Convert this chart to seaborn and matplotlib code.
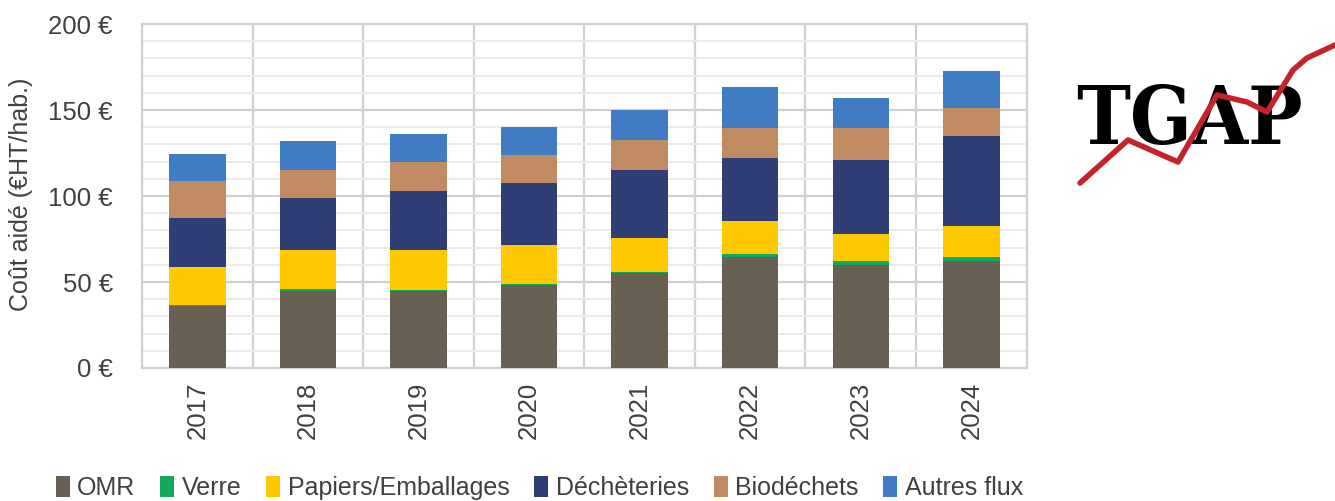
import matplotlib
matplotlib.use("Agg")
import matplotlib.pyplot as plt
import seaborn as sns
import pandas as pd
import numpy as np
from matplotlib.patches import Patch
from matplotlib.lines import Line2D
from matplotlib.ticker import MultipleLocator, FuncFormatter

years = ["2017", "2018", "2019", "2020", "2021", "2022", "2023", "2024"]
omr = [35.9, 44.6, 45.0, 48.3, 55.2, 64.7, 60.1, 62.4]
verre = [0.7, 1.5, 0.4, 0.8, 0.8, 1.6, 2.3, 2.1]
papiers = [22.1, 22.3, 23.1, 22.5, 19.8, 19.2, 15.7, 18.1]
decheteries = [28.3, 30.6, 34.3, 35.7, 39.5, 36.6, 42.6, 52.1]
biodechets = [21.5, 16.3, 17.1, 16.5, 17.3, 17.2, 18.6, 16.5]
autres = [15.9, 16.5, 16.4, 16.5, 17.2, 23.9, 17.9, 21.5]

series_names = ["OMR", "Verre", "Papiers/Emballages", "Déchèteries", "Biodéchets", "Autres flux"]
series_values = [omr, verre, papiers, decheteries, biodechets, autres]
colors = ["#686052", "#13A85A", "#FFC900", "#2F3F76", "#C08A62", "#407CC4"]

sns.set_theme(style="white")
font = ["Liberation Sans", "DejaVu Sans"]
plt.rcParams["font.family"] = font

fig = plt.figure(figsize=(13.35, 5.01), dpi=100)
ax = fig.add_axes([0.1064, 0.2655, 0.6626, 0.6865])

cum = np.cumsum(np.array(series_values), axis=0)
for i in range(len(series_names) - 1, -1, -1):
    df = pd.DataFrame({"year": years, "value": cum[i]})
    sns.barplot(data=df, x="year", y="value", color=colors[i], width=0.51,
                saturation=1, ax=ax, zorder=3, linewidth=0, edgecolor="none")

ax.set_ylim(0, 200)
ax.set_xlim(-0.5, len(years) - 0.5)
ax.yaxis.set_major_locator(MultipleLocator(50))
ax.yaxis.set_minor_locator(MultipleLocator(10))
ax.yaxis.set_major_formatter(FuncFormatter(lambda v, p: f"{int(v)} €"))
ax.grid(axis="y", which="major", color="#D0D0D0", linewidth=1.6, zorder=0)
ax.grid(axis="y", which="minor", color="#EBEBEB", linewidth=1.4, zorder=0)
for xb in np.arange(0.5, len(years) - 0.5, 1):
    ax.axvline(xb, color="#D0D0D0", linewidth=1.6, zorder=0)
for s in ax.spines.values():
    s.set_color("#D0D0D0")
    s.set_linewidth(1.6)
ax.tick_params(axis="x", labelrotation=90, labelsize=18.5, colors="#404040", length=0, pad=10)
ax.tick_params(axis="y", labelsize=18.5, colors="#404040", length=0, pad=21)
ax.tick_params(axis="y", which="minor", length=0)
ax.set_xlabel("")
ax.set_ylabel("Coût aidé (€HT/hab.)", fontsize=18, color="#404040")
ax.yaxis.set_label_coords(-0.123, 0.505)

handles = [Patch(facecolor=c, edgecolor="none") for c in colors]
fig.legend(handles, series_names, loc="center", bbox_to_anchor=(0.404, 0.026), ncol=6,
           frameon=False, fontsize=18, handlelength=0.55, handleheight=0.95,
           handletextpad=0.3, columnspacing=1.0, labelcolor="#404040")

# TGAP logo
fig.text(0.891, 0.757, "TGAP", fontsize=58, fontweight="bold", family="DejaVu Serif",
         fontstretch="condensed", color="black", ha="center", va="center")
lx = np.array([1080, 1128, 1178, 1217, 1247, 1267, 1293, 1307, 1335]) / 1335
ly = 1 - np.array([183, 140, 162, 95, 102, 112, 70, 58, 45]) / 501
fig.add_artist(Line2D(lx, ly, color="#C4232B", linewidth=4, transform=fig.transFigure, zorder=5))

fig.savefig("out.png", dpi=100)
